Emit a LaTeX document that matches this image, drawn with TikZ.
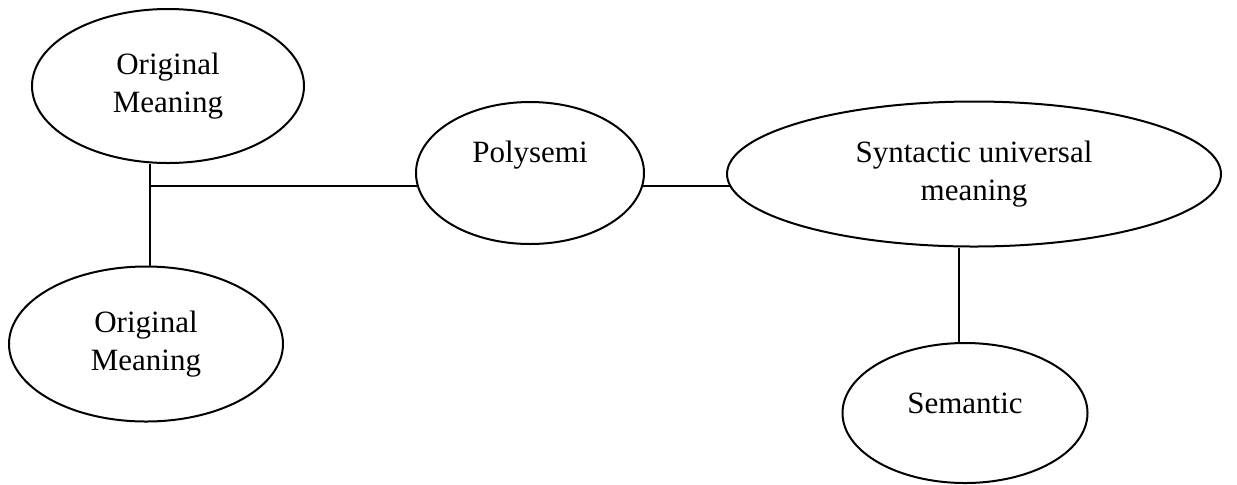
\documentclass[tikz,border=0pt]{standalone}
\usepackage{fontspec}
\setmainfont{Liberation Serif}
\usepackage{tikz}
\usetikzlibrary{positioning}
\usetikzlibrary{shapes,backgrounds}

\begin{document}
\begin{tikzpicture}[x=0.5pt, y=-0.5pt,
    oval/.style={ellipse, draw, fill=white, line width=1pt, inner sep=0pt, align=center,
      font=\fontsize{15.5}{19}\selectfont},
    tag/.style={font=\fontsize{15.5}{19}\selectfont},
    link/.style={line width=0.6pt}]

  \useasboundingbox (0,0) rectangle (1237,484);

  \node[oval, minimum width=136pt, minimum height=77pt] (orig1) at (168,86) {Original\\Meaning};
  \node[oval, minimum width=137pt, minimum height=77.5pt] (orig2) at (146,344) {Original\\Meaning};
  \node[oval, minimum width=114pt, minimum height=71pt,
    label={[tag, yshift=9pt]center:Polysemi}] (poly) at (530,173) {};
  \node[oval, minimum width=247pt, minimum height=72.5pt] (synt) at (974,174) {Syntactic universal\\meaning};
  \node[oval, minimum width=122.5pt, minimum height=70pt,
    label={[tag, yshift=5pt]center:Semantic}] (sem) at (965,413) {};

  \coordinate (j) at (150,186);
  \coordinate (k) at (959,0);
  \begin{pgfonlayer}{background}
    \draw[link] (j |- orig1.south) -- (j |- orig2.north);
    \draw[link] (j) -- (j -| synt.center);
    \draw[link] (k |- synt.south) -- (k |- sem.north);
  \end{pgfonlayer}
\end{tikzpicture}
\end{document}
